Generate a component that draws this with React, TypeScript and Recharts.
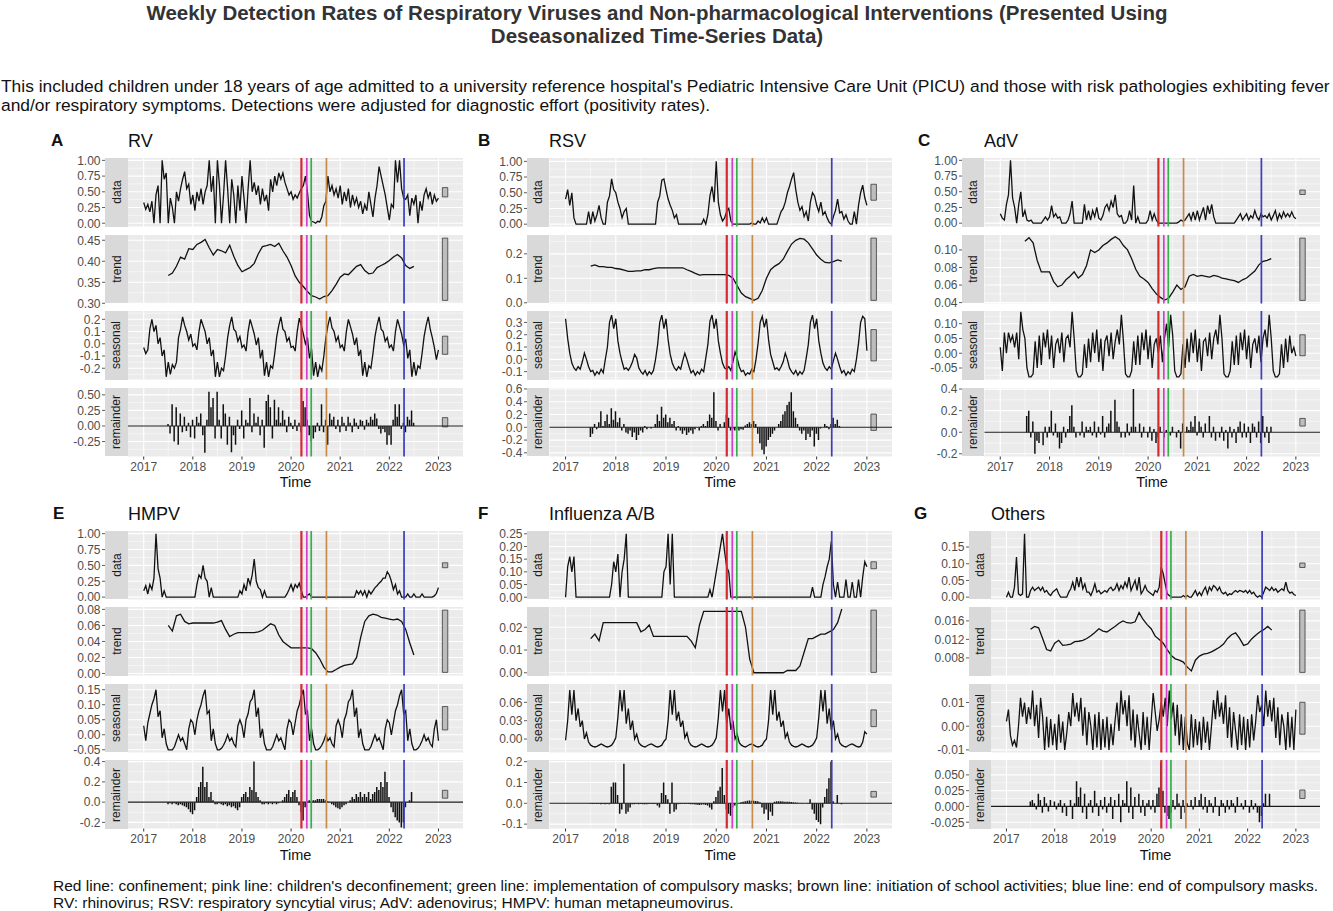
import React from "react";
import {
  ComposedChart,
  Line,
  Bar,
  XAxis,
  YAxis,
  CartesianGrid,
  ReferenceLine,
  ReferenceArea,
} from "recharts";

const FONT = '"Liberation Sans", Arial, Helvetica, sans-serif';

// time axis (decimal years)
const yearTicks = [2017, 2018, 2019, 2020, 2021, 2022, 2023];
const halfYears = [2017.5, 2018.5, 2019.5, 2020.5, 2021.5, 2022.5];

// non-pharmacological interventions
const events = [
  { name: "confinement", t: 2020.21, color: "#d62a33", w: 2.2 },
  { name: "children's deconfinement", t: 2020.32, color: "#d23fcf", w: 1.7 },
  { name: "compulsory masks", t: 2020.41, color: "#35b04a", w: 1.7 },
  { name: "school activities", t: 2020.72, color: "#c98b48", w: 1.7 },
  { name: "end of compulsory masks", t: 2022.3, color: "#3c3cbd", w: 1.7 },
];

// ---- RV ----
const rvData = [
  0.33, 0.22, 0.3, 0.18, 0.35, 0.0, 0.45, 0.6, 0.0, 1.0, 0.7, 0.8, 0.0, 0.4, 0.25, 0.0, 0.5, 0.35, 0.55, 0.7, 0.82, 0.55, 0.62, 0.3,
  0.45, 0.2, 0.5, 0.35, 0.55, 0.3, 0.5, 0.6, 1.0, 0.5, 0.75, 0.0, 1.0, 0.6, 0.0, 0.45, 1.0, 0.55, 0.0, 0.7, 0.45, 0.0, 0.6, 0.2,
  0.75, 0.4, 0.0, 0.55, 1.0, 0.5, 0.65, 0.45, 0.6, 0.3, 0.55, 0.35, 0.45, 0.2, 0.7, 0.5, 0.75, 0.6, 0.8, 0.7, 0.8, 0.65, 0.55, 0.45,
  0.5, 0.38, 0.45, 0.4, 0.48, 0.55, 0.6, 0.75, 0.5, 0.12, 0.03, 0.02, 0.0, 0.03, 0.02, 0.1, 0.28, 0.35, 0.75, 0.5, 0.6, 0.45, 0.55, 0.4,
  0.6, 0.3, 0.5, 0.35, 0.55, 0.25, 0.45, 0.3, 0.4, 0.25, 0.35, 0.15, 0.3, 0.2, 0.5, 0.3, 0.1, 0.4, 0.6, 0.9, 0.75, 0.6, 0.45, 0.25,
  0.05, 0.3, 0.25, 1.0, 0.65, 1.0, 0.55, 0.4, 0.38, 0.45, 0.12, 0.4, 0.3, 0.45, 0.0, 0.35, 0.2, 0.45, 0.55, 0.4, 0.5, 0.3, 0.45, 0.35,
  0.4,
];
const rvTrend = [
  0.366, 0.372, 0.388, 0.41, 0.405, 0.43, 0.428, 0.44, 0.445, 0.452, 0.432, 0.415,
  0.428, 0.425, 0.42, 0.438, 0.412, 0.39, 0.375, 0.38, 0.385, 0.395, 0.418, 0.435,
  0.437, 0.44, 0.435, 0.443, 0.425, 0.41, 0.39, 0.365, 0.35, 0.34, 0.328, 0.318,
  0.315, 0.31, 0.316, 0.318, 0.33, 0.345, 0.362, 0.37, 0.368, 0.378, 0.388, 0.392,
  0.378, 0.37, 0.372, 0.385, 0.39, 0.395, 0.402, 0.41, 0.416, 0.408, 0.39, 0.383,
  0.388,
];
const rvSeasonal = [
  -0.03, -0.08, -0.05, 0.12, 0.2, 0.1, 0.15, 0.0, 0.05, -0.1, -0.05, -0.27, -0.15, -0.25, -0.17, -0.2, -0.15, 0.05, 0.12, 0.22, 0.15, 0.1, 0.03, 0.08,
  -0.02, 0.0, -0.05, 0.1, 0.2, 0.15, 0.1, 0.0, 0.05, -0.1, -0.05, -0.27, -0.15, -0.27, -0.2, -0.22, -0.1, 0.05, 0.15, 0.22, 0.12, 0.1, 0.02, 0.06,
  -0.03, -0.01, -0.06, 0.1, 0.2, 0.14, 0.08, -0.01, 0.05, -0.12, -0.05, -0.26, -0.15, -0.27, -0.18, -0.2, -0.08, 0.06, 0.15, 0.22, 0.12, 0.1, 0.02, 0.05,
  -0.03, -0.02, -0.06, 0.1, 0.21, 0.15, 0.08, 0.0, 0.05, -0.12, -0.04, -0.26, -0.15, -0.27, -0.18, -0.22, -0.1, 0.05, 0.15, 0.22, 0.13, 0.1, 0.02, 0.06,
  -0.03, -0.01, -0.06, 0.1, 0.2, 0.14, 0.08, -0.01, 0.05, -0.1, -0.05, -0.26, -0.15, -0.27, -0.18, -0.2, -0.08, 0.06, 0.15, 0.22, 0.12, 0.1, 0.02, 0.05,
  -0.03, -0.01, -0.06, 0.1, 0.2, 0.14, 0.08, -0.01, 0.04, -0.12, -0.05, -0.27, -0.15, -0.26, -0.18, -0.2, -0.08, 0.06, 0.15, 0.22, 0.12, 0.05, -0.03, -0.13,
  -0.05,
];
const rvRemainder = [
  0.03, -0.12, 0.35, -0.25, 0.3, -0.3, 0.2, -0.1, 0.15, -0.08, 0.05, -0.18, 0.1, -0.2, 0.15, 0.05, 0.2, -0.15, -0.43, 0.1, 0.55, 0.3, 0.45, -0.2,
  0.55, 0.1, -0.2, 0.35, 0.2, -0.3, 0.15, -0.42, -0.15, -0.3, 0.1, -0.05, 0.25, -0.2, 0.1, 0.05, 0.45, -0.1, 0.2, 0.05, 0.15, -0.15, 0.1, -0.35,
  0.4, 0.5, 0.3, -0.2, 0.42, 0.1, 0.3, 0.05, 0.25, 0.1, -0.1, 0.15, 0.05, -0.05, 0.1, -0.08, 0.05, -0.1, 0.4, 0.3, 0.1, -0.15, -0.25, -0.2,
  -0.1, 0.05, -0.08, 0.35, -0.1, 0.1, -0.3, 0.2, 0.1, 0.15, -0.05, 0.1, -0.1, 0.15, 0.05, -0.08, 0.15, 0.05, -0.1, 0.12, 0.05, -0.05, 0.1, 0.08,
  -0.06, 0.1, 0.05, 0.15, 0.1, 0.2, 0.12, -0.05, -0.12, -0.05, -0.1, -0.3, -0.15, -0.3, 0.1, 0.35, 0.15, 0.35, -0.05, 0.05, -0.1, 0.15, 0.1, 0.25,
  0.05,
];

// ---- RSV ----
const rsvData = [
  0.4, 0.55, 0.3, 0.5, 0.1, 0, 0, 0, 0, 0, 0, 0.2, 0, 0.2, 0.05, 0.15, 0.3, 0.1, 0, 0, 0.35, 0.45, 0.72, 0.55,
  0.5, 0.35, 0.25, 0.1, 0.2, 0.25, 0, 0, 0, 0, 0, 0, 0, 0, 0, 0, 0, 0, 0, 0, 0.35, 0.45, 0.7, 0.72,
  0.55, 0.4, 0.3, 0.22, 0.1, 0.15, 0, 0, 0, 0, 0, 0, 0, 0, 0, 0, 0, 0, 0.08, 0, 0.15, 0.45, 0.6, 0.35,
  1.0, 0.35, 0.15, 0.05, 0.1, 0.2, 0.25, 0.05, 0, 0, 0, 0, 0, 0, 0, 0, 0, 0.02, 0, 0, 0.05, 0.02, 0.1, 0.03,
  0.1, 0, 0, 0, 0, 0, 0.1, 0.2, 0.25, 0.35, 0.5, 0.6, 0.72, 0.82, 0.55, 0.35, 0.22, 0.28, 0.12, 0.2, 0.05, 0.35, 0.5, 0.45,
  0.3, 0.2, 0.35, 0.15, 0.2, 0.1, 0.03, 0.0, 0.12, 0.22, 0.4, 0.18, 0.2, 0.08, 0.15, 0.05, 0.0, 0.0, 0.2, 0.0, 0.3, 0.5, 0.62, 0.42,
  0.3,
];
const rsvTrend = [
  0.15, 0.155, 0.148, 0.148, 0.145, 0.145, 0.14, 0.138, 0.133, 0.128, 0.128, 0.13,
  0.13, 0.135, 0.135, 0.14, 0.143, 0.143, 0.143, 0.143, 0.143, 0.143, 0.143, 0.135,
  0.128, 0.12, 0.113, 0.115, 0.115, 0.115, 0.115, 0.115, 0.115, 0.112, 0.1, 0.07,
  0.04, 0.025, 0.018, 0.01, 0.018, 0.05, 0.1, 0.135, 0.15, 0.16, 0.178, 0.21,
  0.24, 0.255, 0.263, 0.26, 0.245, 0.22, 0.195, 0.178, 0.165, 0.163, 0.168, 0.175,
  0.17,
];
const rsvSeasonal = [
  0.33, 0.17, 0.05, -0.03, -0.07, -0.09, -0.06, -0.08, -0.02, 0.05, 0.0, -0.06, -0.1, -0.09, -0.13, -0.1, -0.12, -0.08, -0.11, 0.0, 0.1, 0.3, 0.36, 0.25,
  0.33, 0.15, 0.05, -0.02, -0.08, -0.07, -0.09, -0.06, -0.02, 0.04, 0.01, -0.07, -0.1, -0.12, -0.09, -0.13, -0.1, -0.12, -0.09, 0.0, 0.12, 0.3, 0.36, 0.25,
  0.33, 0.16, 0.04, -0.03, -0.07, -0.09, -0.06, -0.08, -0.01, 0.05, 0.0, -0.06, -0.11, -0.09, -0.13, -0.1, -0.12, -0.08, -0.1, 0.01, 0.12, 0.31, 0.36, 0.25,
  0.33, 0.15, 0.05, -0.03, -0.07, -0.08, -0.06, -0.09, -0.02, 0.06, 0.01, -0.06, -0.1, -0.09, -0.13, -0.11, -0.12, -0.08, -0.1, 0.0, 0.13, 0.3, 0.35, 0.26,
  0.33, 0.16, 0.04, -0.02, -0.08, -0.07, -0.09, -0.06, -0.02, 0.05, 0.0, -0.07, -0.1, -0.12, -0.09, -0.13, -0.1, -0.12, -0.09, 0.01, 0.12, 0.3, 0.36, 0.25,
  0.33, 0.15, 0.05, -0.03, -0.07, -0.09, -0.06, -0.08, -0.01, 0.05, 0.0, -0.06, -0.11, -0.09, -0.13, -0.1, -0.12, -0.08, -0.1, 0.0, 0.13, 0.3, 0.35, 0.33,
  0.07,
];
const rsvRemainder = [
  -0.15, -0.1, 0.05, -0.03, 0.08, 0.25, 0.02, 0.1, 0.2, 0.05, 0.3, 0.12, 0.25, 0.08, 0.15, -0.05, 0.05, -0.08, -0.1, -0.05, -0.15, -0.08, -0.2, -0.12,
  -0.05, -0.08, 0.02, -0.03, 0.0, -0.02, 0.0, 0.05, 0.2, 0.1, 0.32, 0.15, 0.2, 0.08, 0.15, 0.05, 0.1, -0.05, 0.02, -0.05, -0.1, -0.05, -0.12, -0.08,
  -0.05, -0.1, -0.03, 0.0, -0.05, 0.02, 0.05, 0.02, 0.1, 0.2, 0.15, 0.55, 0.1, -0.05, 0.05, 0.0, 0.08, 0.2, 0.15, -0.05, -0.03, -0.05, -0.02, -0.05,
  -0.03, -0.04, 0.03, 0.05, 0.08, 0.05, 0.1, 0.05, -0.1, -0.25, -0.35, -0.42, -0.3, -0.2, -0.15, -0.1, -0.05, 0.0, 0.05, 0.1, 0.2, 0.25, 0.35, 0.4,
  0.55, 0.25, 0.15, 0.05, -0.05, -0.1, -0.05, -0.2, -0.1, -0.15, -0.05, -0.3, -0.1, -0.2, -0.02, 0.0, 0.05, 0.02, -0.03, 0.05, 0.15, 0.05, 0.12, 0.02,
  0.0,
];

// ---- AdV ----
const advData = [
  0.15, 0.08, 0.05, 0.3, 0.45, 1.0, 0.4, 0.25, 0.0, 0.3, 0.5, 0.1, 0.2, 0.05, 0.03, 0.05, 0, 0, 0, 0, 0, 0.05, 0.1, 0.05,
  0.1, 0.28, 0.1, 0.15, 0.08, 0.1, 0, 0, 0, 0.05, 0.15, 0.35, 0, 0, 0, 0, 0, 0.3, 0.05, 0.2, 0.05, 0.2, 0.1, 0.25,
  0.08, 0.05, 0.12, 0.25, 0.3, 0.2, 0.35, 0.25, 0.45, 0.15, 0.1, 0.12, 0, 0, 0.05, 0.2, 0.05, 0.6, 0, 0.1, 0, 0, 0, 0,
  0.05, 0.2, 0.05, 0.15, 0.05, 0, 0, 0, 0, 0, 0, 0, 0, 0, 0, 0.02, 0.05, 0.03, 0.05, 0.1, 0.15, 0.05, 0.18, 0.05,
  0.2, 0.05, 0.15, 0.25, 0.05, 0.28, 0.15, 0.3, 0.1, 0, 0, 0, 0, 0, 0, 0, 0, 0, 0, 0.05, 0.1, 0.15, 0.05, 0.1,
  0.15, 0.05, 0.12, 0.08, 0.2, 0.1, 0.05, 0.15, 0.1, 0.12, 0.08, 0.15, 0.05, 0.12, 0.2, 0.05, 0.15, 0.08, 0.18, 0.1, 0.15, 0.1, 0.18, 0.1,
  0.07,
];
const advTrend = [
  0.11, 0.114, 0.108, 0.088, 0.075, 0.075, 0.075, 0.064, 0.058, 0.06, 0.066, 0.07,
  0.075, 0.068, 0.072, 0.082, 0.1, 0.097, 0.1, 0.105, 0.108, 0.112, 0.115, 0.112,
  0.105, 0.1, 0.09, 0.078, 0.07, 0.067, 0.063, 0.056, 0.05, 0.046, 0.043, 0.045,
  0.052, 0.06, 0.055, 0.058, 0.07, 0.072, 0.07, 0.071, 0.07, 0.069, 0.071, 0.07,
  0.068, 0.067, 0.066, 0.065, 0.063, 0.066, 0.068, 0.072, 0.076, 0.083, 0.087, 0.088,
  0.09,
];
const advSeasonal = [
  0.02, -0.06, 0.07, 0.0, 0.07, 0.04, 0.06, 0.02, 0.07, -0.02, 0.14, 0.08, 0.05, -0.05, -0.08, -0.08, -0.07, 0.04, -0.05, 0.06, -0.04, 0.07, 0.02, 0.08,
  -0.02, 0.06, -0.05, 0.03, 0.05, 0.0, 0.07, -0.03, 0.05, 0.06, 0.02, 0.14, 0.05, -0.06, -0.08, -0.08, -0.07, 0.03, -0.05, 0.05, -0.03, 0.07, 0.0, 0.08,
  -0.03, 0.05, -0.06, 0.04, 0.06, -0.01, 0.07, -0.02, 0.04, 0.08, 0.03, 0.13, 0.04, -0.07, -0.08, -0.08, -0.06, 0.04, -0.04, 0.06, -0.04, 0.07, 0.01, 0.08,
  -0.02, 0.06, -0.05, 0.03, 0.05, 0.0, 0.06, -0.03, 0.05, 0.1, 0.02, 0.13, 0.06, -0.06, -0.08, -0.08, -0.07, 0.03, -0.05, 0.05, -0.03, 0.07, 0.0, 0.08,
  -0.03, 0.05, -0.06, 0.04, 0.05, -0.01, 0.07, -0.02, 0.05, 0.08, 0.03, 0.13, 0.05, -0.07, -0.08, -0.08, -0.06, 0.04, -0.04, 0.06, -0.04, 0.07, 0.01, 0.08,
  -0.02, 0.06, -0.05, 0.03, 0.05, 0.0, 0.06, -0.03, 0.05, 0.08, 0.02, 0.13, 0.05, -0.06, -0.08, -0.08, -0.07, 0.03, -0.05, 0.05, -0.03, 0.06, 0.0, 0.02,
  -0.01,
];
const advRemainder = [
  0.0, 0.15, 0.2, -0.05, 0.1, -0.2, -0.08, -0.1, 0.0, -0.12, 0.05, -0.05, 0.05, 0.2, -0.03, 0.08, -0.05, -0.15, -0.1, 0.05, -0.05, 0.03, 0.15, 0.25,
  0.05, -0.05, 0.0, -0.03, 0.1, -0.05, 0.05, 0.02, 0.05, -0.03, 0.1, -0.05, 0.05, -0.02, 0.15, -0.05, 0.05, 0.08, 0.2, 0.0, 0.3, 0.1, 0.05, -0.05,
  0.0, -0.05, 0.08, -0.03, 0.05, 0.4, 0.05, 0.0, 0.08, -0.05, 0.05, 0.0, -0.05, 0.05, -0.08, 0.03, -0.1, -0.05, 0.05, 0.0, -0.05, 0.02, 0.0, -0.03,
  0.05, 0.0, -0.05, 0.02, -0.15, 0.08, 0.0, 0.05, 0.02, 0.1, 0.05, 0.15, -0.03, 0.1, 0.05, -0.05, 0.08, 0.0, 0.15, -0.05, 0.05, -0.08, 0.0, -0.05,
  0.05, -0.08, 0.02, -0.15, 0.05, -0.05, 0.03, -0.1, 0.05, 0.1, -0.05, 0.08, -0.05, 0.05, -0.1, 0.08, 0.05, -0.05, 0.1, -0.1, 0.15, -0.05, 0.05, -0.1,
  0.05,
];

// ---- HMPV ----
const hmpvData = [
  0.1, 0.18, 0.05, 0.2, 0.12, 0.3, 1.0, 0.45, 0.3, 0.0, 0.1, 0, 0, 0, 0, 0, 0, 0, 0, 0, 0, 0, 0, 0,
  0, 0, 0.2, 0.35, 0.3, 0.5, 0.3, 0.25, 0, 0.15, 0, 0, 0, 0, 0, 0, 0, 0, 0, 0, 0, 0, 0, 0.1,
  0.05, 0.2, 0.1, 0.3, 0.2, 0.35, 0.6, 0.25, 0.15, 0.12, 0, 0.1, 0, 0, 0, 0, 0, 0, 0, 0, 0, 0, 0.05, 0.12,
  0.2, 0.1, 0.2, 0.15, 0.22, 0.1, 0.0, 0.0, 0.03, 0.05, 0, 0, 0, 0, 0, 0, 0, 0, 0, 0, 0, 0, 0, 0,
  0, 0, 0, 0, 0, 0, 0, 0, 0.1, 0.05, 0.1, 0.03, 0.1, 0, 0.1, 0.05, 0.1, 0.15, 0.18, 0.22, 0.25, 0.3, 0.3, 0.4,
  0.35, 0.25, 0.12, 0.2, 0.05, 0.1, 0, 0, 0, 0.05, 0, 0, 0.05, 0, 0, 0, 0.05, 0, 0, 0, 0, 0, 0.02, 0.06,
  0.15,
];
const hmpvTrend = [
  0.06, 0.053, 0.072, 0.074, 0.065, 0.062, 0.063, 0.063, 0.063, 0.063, 0.063, 0.063,
  0.064, 0.066, 0.055, 0.046, 0.049, 0.051, 0.051, 0.051, 0.051, 0.051, 0.052, 0.054,
  0.058, 0.062, 0.06, 0.048, 0.04, 0.036, 0.032, 0.032, 0.032, 0.032, 0.032, 0.031,
  0.026, 0.018, 0.008, 0.002, 0.002, 0.005, 0.008, 0.01, 0.011, 0.012, 0.02, 0.045,
  0.065, 0.072, 0.074, 0.073, 0.07, 0.069, 0.068, 0.067, 0.068, 0.065, 0.055, 0.038,
  0.023,
];
const hmpvSeasonal = [
  0.03, -0.02, 0.04, 0.07, 0.1, 0.12, 0.15, 0.06, 0.08, -0.01, 0.02, -0.03, -0.05, -0.05, -0.05, -0.04, -0.02, 0.0, -0.02, -0.01, -0.03, -0.05, 0.02, 0.05,
  0.04, 0.0, 0.05, 0.08, 0.1, 0.13, 0.15, 0.07, 0.08, -0.02, 0.02, -0.03, -0.05, -0.05, -0.045, -0.035, -0.02, 0.0, -0.02, -0.01, -0.03, -0.04, 0.03, 0.05,
  0.03, -0.01, 0.05, 0.07, 0.11, 0.12, 0.15, 0.06, 0.09, -0.01, 0.02, -0.03, -0.05, -0.05, -0.05, -0.04, -0.02, 0.0, -0.02, -0.01, -0.03, -0.05, 0.02, 0.05,
  0.04, 0.0, 0.04, 0.08, 0.1, 0.13, 0.15, 0.07, 0.08, -0.02, 0.02, -0.03, -0.05, -0.05, -0.045, -0.035, -0.02, 0.0, -0.02, -0.01, -0.03, -0.04, 0.03, 0.05,
  0.03, -0.01, 0.05, 0.07, 0.11, 0.12, 0.15, 0.06, 0.09, -0.01, 0.02, -0.03, -0.05, -0.05, -0.05, -0.04, -0.02, 0.0, -0.02, -0.01, -0.03, -0.05, 0.02, 0.05,
  0.04, 0.0, 0.04, 0.08, 0.1, 0.13, 0.15, 0.07, 0.08, -0.02, 0.02, -0.03, -0.05, -0.05, -0.045, -0.035, -0.02, 0.0, -0.02, -0.01, -0.03, -0.04, 0.02, 0.05,
  -0.02,
];
const hmpvRemainder = [
  -0.02, -0.01, -0.02, -0.01, -0.02, -0.03, -0.02, -0.03, -0.04, -0.05, -0.07, -0.1, -0.12, -0.08, 0.05, 0.15, 0.2, 0.35, 0.15, 0.2, 0.05, 0.1, 0.02, -0.02,
  -0.02, -0.01, -0.02, -0.03, -0.02, -0.04, -0.03, -0.05, -0.04, -0.06, -0.08, -0.05, 0.05, 0.08, 0.1, 0.05, 0.15, 0.12, 0.4, 0.1, 0.05, 0.02, -0.02, -0.02,
  -0.01, -0.02, -0.01, -0.02, -0.01, -0.02, -0.01, 0.0, 0.02, 0.05, 0.08, 0.12, 0.05, 0.1, 0.12, 0.05, -0.03, -0.1, -0.18, -0.05, 0.01, 0.02, 0.01, 0.02,
  0.02, 0.03, 0.03, 0.03, 0.03, 0.02, 0.01, 0.0, -0.02, -0.03, -0.05, -0.06, -0.07, -0.05, -0.03, -0.02, 0.0, 0.02, 0.05, 0.03, 0.08, 0.05, 0.1, 0.05,
  0.08, 0.05, 0.1, 0.03, 0.08, 0.1, 0.15, 0.12, 0.2, 0.15, 0.3, 0.2, 0.05, -0.05, -0.1, -0.15, -0.18, -0.2, -0.25, -0.2, -0.05, 0.0, 0.02, 0.1,
  0.0,
];

// ---- Influenza A/B ----
const fluData = [
  0, 0.12, 0.16, 0.1, 0.16, 0, 0, 0, 0, 0, 0, 0, 0, 0, 0, 0, 0, 0, 0, 0, 0, 0, 0.05, 0.14,
  0.1, 0.17, 0, 0.1, 0.15, 0.25, 0, 0, 0, 0, 0, 0, 0, 0, 0, 0, 0, 0, 0, 0, 0, 0, 0, 0.1,
  0.12, 0.25, 0.05, 0.25, 0, 0, 0, 0, 0, 0, 0, 0, 0, 0, 0, 0, 0, 0, 0, 0, 0, 0.03, 0, 0.05,
  0.1, 0.15, 0.2, 0.25, 0.18, 0.12, 0.1, 0, 0, 0, 0, 0, 0, 0, 0, 0, 0, 0, 0, 0, 0, 0, 0, 0,
  0, 0, 0, 0, 0, 0, 0, 0, 0, 0, 0, 0, 0, 0, 0, 0, 0, 0, 0, 0, 0, 0, 0.04, 0,
  0, 0, 0, 0.05, 0.08, 0.12, 0.15, 0.22, 0.05, 0, 0.06, 0, 0, 0, 0.07, 0, 0, 0.06, 0, 0, 0.07, 0, 0.08, 0.14,
  0.12,
];
const fluTrend = [
  0.015, 0.017, 0.014, 0.022, 0.022, 0.022, 0.022, 0.022, 0.022, 0.022, 0.022, 0.022,
  0.018, 0.019, 0.021, 0.016, 0.016, 0.016, 0.016, 0.016, 0.016, 0.016, 0.016, 0.016,
  0.014, 0.011, 0.021, 0.027, 0.027, 0.027, 0.027, 0.027, 0.027, 0.027, 0.027, 0.027,
  0.027, 0.02, 0.006, 0.0, 0.0, 0.0, 0.0, 0.0, 0.0, 0.0, 0.0, 0.001,
  0.001, 0.001, 0.003, 0.009, 0.015, 0.015, 0.016, 0.017, 0.017, 0.018, 0.019, 0.022,
  0.028,
];
const fluSeasonal = [
  -0.002, 0.03, 0.08, 0.04, 0.08, 0.03, 0.05, 0.02, 0.03, 0.0, 0.01, -0.005, -0.01, -0.012, -0.013, -0.012, -0.01, -0.008, -0.01, -0.012, -0.013, -0.012, -0.01, -0.005,
  0.002, 0.035, 0.08, 0.045, 0.08, 0.025, 0.05, 0.015, 0.03, 0.0, 0.008, -0.006, -0.01, -0.012, -0.013, -0.011, -0.009, -0.008, -0.01, -0.012, -0.013, -0.012, -0.01, -0.004,
  0.0, 0.03, 0.08, 0.04, 0.08, 0.03, 0.045, 0.02, 0.03, 0.002, 0.01, -0.005, -0.01, -0.012, -0.013, -0.012, -0.01, -0.008, -0.01, -0.012, -0.013, -0.012, -0.01, -0.005,
  0.002, 0.035, 0.08, 0.045, 0.08, 0.025, 0.05, 0.015, 0.03, 0.0, 0.008, -0.006, -0.01, -0.012, -0.013, -0.011, -0.009, -0.008, -0.01, -0.012, -0.013, -0.012, -0.01, -0.004,
  0.0, 0.03, 0.08, 0.04, 0.08, 0.03, 0.045, 0.02, 0.03, 0.002, 0.01, -0.005, -0.01, -0.012, -0.013, -0.012, -0.01, -0.008, -0.01, -0.012, -0.013, -0.012, -0.01, -0.005,
  0.002, 0.035, 0.08, 0.045, 0.08, 0.025, 0.05, 0.015, 0.03, 0.0, 0.008, -0.006, -0.01, -0.012, -0.013, -0.011, -0.009, -0.008, -0.01, -0.012, -0.013, -0.012, -0.005, 0.012,
  0.008,
];
const fluRemainder = [
  -0.002, -0.003, -0.002, -0.003, -0.002, -0.004, -0.003, -0.004, -0.003, -0.005, 0.08, 0.1, 0.1, 0.04, -0.05, -0.03, 0.19, -0.05, -0.04, -0.02, -0.005, -0.004, -0.003, -0.004,
  -0.003, -0.004, -0.005, -0.004, -0.003, -0.002, -0.003, -0.002, -0.01, -0.02, 0.05, 0.1, 0.04, 0.02, -0.05, 0.1, -0.04, -0.03, -0.005, -0.003, -0.002, -0.003, -0.002, -0.003,
  -0.004, -0.005, -0.006, -0.007, -0.008, -0.007, -0.006, -0.008, -0.01, -0.02, -0.03, 0.01, 0.03, 0.06, 0.08, 0.17, 0.04, -0.03, -0.05, -0.06, -0.02, -0.01, -0.005, 0.0,
  0.005, 0.008, 0.01, 0.012, 0.013, 0.012, 0.012, 0.011, 0.01, 0.005, -0.02, -0.05, -0.03, -0.08, -0.04, -0.06, 0.008, 0.01, 0.01, 0.01, 0.009, 0.008, 0.008, 0.007,
  0.006, 0.005, 0.004, 0.003, 0.002, 0.001, 0.0, 0.0, -0.002, 0.02, -0.03, -0.05, -0.08, -0.09, -0.1, -0.02, 0.03, 0.07, 0.12, 0.2, 0.01, 0.0, 0.04, 0.0,
  -0.005,
];

// ---- Others ----
const othData = [
  0.0, 0.015, 0.0, 0.0, 0.03, 0.12, 0.01, 0.005, 0.01, 0.19, 0.0, 0.0, 0.02, 0.03, 0.02, 0.025, 0.03, 0.02, 0.03, 0.015, 0.02, 0.01, 0.005, 0.015,
  0.02, 0.025, 0.01, 0.0, 0.0, 0.0, 0.0, 0.015, 0.025, 0.045, 0.02, 0.06, 0.03, 0.06, 0.025, 0.04, 0.015, 0.015, 0.005, 0.02, 0.04, 0.015, 0.02, 0.01,
  0.015, 0.02, 0.015, 0.025, 0.03, 0.02, 0.025, 0.04, 0.02, 0.035, 0.025, 0.045, 0.03, 0.06, 0.02, 0.035, 0.05, 0.02, 0.06, 0.01, 0.02, 0.035, 0.02, 0.015,
  0.01, 0.005, 0.02, 0.015, 0.03, 0.09, 0.07, 0.04, 0.01, 0.005, 0.0, 0.0, 0.0, 0.0, 0.0, 0.0, 0.005, 0.0, 0.005, 0.0, 0.0, 0.01, 0.02, 0.005,
  0.015, 0.005, 0.02, 0.03, 0.01, 0.03, 0.02, 0.035, 0.03, 0.02, 0.03, 0.015, 0.01, 0.015, 0.005, 0.01, 0.008, 0.015, 0.02, 0.015, 0.02, 0.018, 0.015, 0.02,
  0.012, 0.02, 0.01, 0.015, 0.005, 0.0, 0.005, 0.0, 0.015, 0.03, 0.025, 0.02, 0.03, 0.02, 0.025, 0.015, 0.02, 0.025, 0.02, 0.045, 0.02, 0.012, 0.015, 0.008,
  0.005,
];
const othTrend = [
  0.0142, 0.0148, 0.0145, 0.0122, 0.0098, 0.0095, 0.0112, 0.0118, 0.0107, 0.0108, 0.011, 0.0115,
  0.0116, 0.0118, 0.0122, 0.0128, 0.0135, 0.0143, 0.0138, 0.0136, 0.0142, 0.0148, 0.0155, 0.016,
  0.0156, 0.0155, 0.0158, 0.0178, 0.0163, 0.0152, 0.0143, 0.0127, 0.012, 0.0112, 0.0098, 0.0085,
  0.0078, 0.0075, 0.0071, 0.006, 0.0052, 0.0075, 0.0084, 0.0088, 0.009, 0.0093, 0.0098, 0.0103,
  0.011, 0.0122, 0.013, 0.0134, 0.0122, 0.0107, 0.011, 0.0121, 0.0129, 0.0136, 0.0141, 0.0148,
  0.014,
];
const othSeasonal = [
  0.002, 0.007, -0.004, -0.008, -0.006, -0.009, 0.0, 0.012, 0.004, 0.01, 0.001, 0.008, 0.003, 0.015, 0.0, 0.009, -0.005, 0.012, 0.004, -0.01, 0.004, -0.009, 0.003, -0.008,
  0.001, -0.01, 0.005, -0.007, 0.002, -0.01, -0.003, 0.006, 0.0, 0.014, 0.004, 0.01, 0.002, 0.012, -0.004, 0.008, -0.008, 0.006, 0.0, -0.01, 0.005, -0.009, 0.006, -0.01,
  0.003, -0.009, 0.004, -0.01, 0.001, -0.008, 0.002, 0.01, -0.002, 0.015, 0.005, 0.011, 0.0, 0.013, -0.006, 0.007, -0.009, 0.005, -0.003, -0.01, 0.006, -0.008, 0.004, -0.01,
  0.002, 0.014, 0.006, -0.002, 0.003, 0.01, 0.004, 0.012, 0.0, 0.015, 0.003, 0.01, -0.004, 0.009, -0.008, 0.005, -0.01, 0.004, -0.007, -0.01, 0.005, -0.009, 0.003, -0.008,
  0.002, -0.01, 0.004, -0.007, 0.002, -0.01, 0.0, 0.011, 0.003, 0.015, 0.004, 0.01, 0.001, 0.013, -0.005, 0.008, -0.009, 0.006, -0.002, -0.01, 0.005, -0.008, 0.004, -0.01,
  0.003, -0.009, 0.005, -0.006, 0.002, 0.013, 0.006, 0.009, 0.0, 0.015, 0.004, 0.011, 0.002, 0.012, -0.005, 0.008, -0.008, 0.005, 0.0, -0.01, 0.006, -0.009, 0.004, -0.01,
  0.007,
];
const othRemainder = [
  0.008, 0.01, 0.005, -0.005, 0.02, 0.01, -0.01, 0.015, 0.005, -0.008, 0.01, 0.0, 0.008, -0.005, 0.005, 0.01, -0.01, 0.005, -0.015, 0.0, 0.01, -0.02, 0.005, 0.04,
  0.015, 0.03, -0.01, 0.02, -0.02, 0.005, 0.01, -0.01, 0.025, 0.005, -0.015, 0.01, -0.005, 0.015, -0.01, 0.005, 0.015, -0.02, 0.01, 0.0, 0.02, -0.025, 0.01, 0.005,
  0.04, -0.01, 0.03, -0.02, 0.015, 0.0, 0.02, -0.01, 0.01, -0.015, 0.005, 0.01, -0.005, 0.01, -0.01, 0.02, 0.03, 0.07, 0.025, -0.01, -0.015, -0.02, -0.01, 0.01,
  -0.005, 0.02, 0.005, -0.02, 0.01, -0.01, 0.005, 0.0, 0.01, -0.005, 0.015, 0.0, 0.01, 0.02, -0.005, 0.015, -0.01, 0.01, 0.005, -0.01, 0.015, 0.0, -0.015, 0.01,
  0.005, -0.01, 0.01, -0.005, 0.01, 0.005, -0.01, 0.015, 0.0, 0.005, -0.005, 0.01, 0.0, -0.01, 0.01, -0.005, 0.005, -0.01, -0.025, -0.015, 0.005, 0.02, 0.0, 0.02,
  0.0,
];

// ---------- layout ----------
const SUB_H = 68.5;
const SUB_GAP = 8.1;
const PAD = 7;
const LABEL_W = 66;
const AXIS_H = 22;
const X_DOMAIN: [number, number] = [2016.68, 2023.5];
const BAR_X: [number, number] = [2023.08, 2023.19];

type SubSpec = {
  label: string;
  values: number[];
  start: number;
  perYear: number;
  domain: [number, number];
  ticks: number[];
  minor: number[];
  digits: number;
  bars?: boolean;
};

type PanelSpec = {
  letter: string;
  name: string;
  letterX: number;
  stripLeft: number;
  plotLeft: number;
  plotRight: number;
  top: number;
  subs: SubSpec[];
};

const dataTicks = [0, 0.25, 0.5, 0.75, 1];
const dataMinor = [0.125, 0.375, 0.625, 0.875];

const panels: PanelSpec[] = [
  {
    letter: "A", name: "RV", letterX: 51, stripLeft: 105, plotLeft: 128, plotRight: 463, top: 158,
    subs: [
      { label: "data", values: rvData, start: 2017, perYear: 24, domain: [-0.052, 1.038], ticks: dataTicks, minor: dataMinor, digits: 2 },
      { label: "trend", values: rvTrend, start: 2017.5, perYear: 12, domain: [0.2995, 0.4625], ticks: [0.3, 0.35, 0.4, 0.45], minor: [0.325, 0.375, 0.425], digits: 2 },
      { label: "seasonal", values: rvSeasonal, start: 2017, perYear: 24, domain: [-0.292, 0.268], ticks: [-0.2, -0.1, 0, 0.1, 0.2], minor: [-0.25, -0.15, -0.05, 0.05, 0.15, 0.25], digits: 1 },
      { label: "remainder", values: rvRemainder, start: 2017.5, perYear: 24, domain: [-0.49, 0.61], ticks: [-0.25, 0, 0.25, 0.5], minor: [-0.375, -0.125, 0.125, 0.375], digits: 2, bars: true },
    ],
  },
  {
    letter: "B", name: "RSV", letterX: 478, stripLeft: 526.5, plotLeft: 549, plotRight: 891.5, top: 158,
    subs: [
      { label: "data", values: rsvData, start: 2017, perYear: 24, domain: [-0.037, 1.053], ticks: dataTicks, minor: dataMinor, digits: 2 },
      { label: "trend", values: rsvTrend, start: 2017.5, perYear: 12, domain: [-0.003, 0.277], ticks: [0, 0.1, 0.2], minor: [0.05, 0.15, 0.25], digits: 1 },
      { label: "seasonal", values: rsvSeasonal, start: 2017, perYear: 24, domain: [-0.164, 0.393], ticks: [-0.1, 0, 0.1, 0.2, 0.3], minor: [-0.15, -0.05, 0.05, 0.15, 0.25, 0.35], digits: 1 },
      { label: "remainder", values: rsvRemainder, start: 2017.5, perYear: 24, domain: [-0.457, 0.615], ticks: [-0.4, -0.2, 0, 0.2, 0.4, 0.6], minor: [-0.3, -0.1, 0.1, 0.3, 0.5], digits: 1, bars: true },
    ],
  },
  {
    letter: "C", name: "AdV", letterX: 918, stripLeft: 961.5, plotLeft: 984, plotRight: 1320, top: 158,
    subs: [
      { label: "data", values: advData, start: 2017, perYear: 24, domain: [-0.053, 1.037], ticks: dataTicks, minor: dataMinor, digits: 2 },
      { label: "trend", values: advTrend, start: 2017.5, perYear: 12, domain: [0.039, 0.117], ticks: [0.04, 0.06, 0.08, 0.1], minor: [0.05, 0.07, 0.09, 0.11], digits: 2 },
      { label: "seasonal", values: advSeasonal, start: 2017, perYear: 24, domain: [-0.089, 0.143], ticks: [-0.05, 0, 0.05, 0.1], minor: [-0.075, -0.025, 0.025, 0.075, 0.125], digits: 2 },
      { label: "remainder", values: advRemainder, start: 2017.5, perYear: 24, domain: [-0.225, 0.41], ticks: [-0.2, 0, 0.2, 0.4], minor: [-0.1, 0.1, 0.3], digits: 1, bars: true },
    ],
  },
  {
    letter: "E", name: "HMPV", letterX: 53, stripLeft: 105, plotLeft: 128, plotRight: 463, top: 530.5,
    subs: [
      { label: "data", values: hmpvData, start: 2017, perYear: 24, domain: [-0.037, 1.042], ticks: dataTicks, minor: dataMinor, digits: 2 },
      { label: "trend", values: hmpvTrend, start: 2017.5, perYear: 12, domain: [-0.0025, 0.083], ticks: [0, 0.02, 0.04, 0.06, 0.08], minor: [0.01, 0.03, 0.05, 0.07], digits: 2 },
      { label: "seasonal", values: hmpvSeasonal, start: 2017, perYear: 24, domain: [-0.059, 0.169], ticks: [-0.05, 0, 0.05, 0.1, 0.15], minor: [-0.025, 0.025, 0.075, 0.125], digits: 2 },
      { label: "remainder", values: hmpvRemainder, start: 2017.5, perYear: 24, domain: [-0.26, 0.416], ticks: [-0.2, 0, 0.2, 0.4], minor: [-0.1, 0.1, 0.3], digits: 1, bars: true },
    ],
  },
  {
    letter: "F", name: "Influenza A/B", letterX: 478, stripLeft: 526.5, plotLeft: 549, plotRight: 891.5, top: 530.5,
    subs: [
      { label: "data", values: fluData, start: 2017, perYear: 24, domain: [-0.009, 0.261], ticks: [0, 0.05, 0.1, 0.15, 0.2, 0.25], minor: [0.025, 0.075, 0.125, 0.175, 0.225], digits: 2 },
      { label: "trend", values: fluTrend, start: 2017.5, perYear: 12, domain: [-0.0012, 0.0289], ticks: [0, 0.01, 0.02], minor: [0.005, 0.015, 0.025], digits: 2 },
      { label: "seasonal", values: fluSeasonal, start: 2017, perYear: 24, domain: [-0.022, 0.09], ticks: [0, 0.03, 0.06], minor: [-0.015, 0.015, 0.045, 0.075], digits: 2 },
      { label: "remainder", values: fluRemainder, start: 2017.5, perYear: 24, domain: [-0.121, 0.208], ticks: [-0.1, 0, 0.1, 0.2], minor: [-0.05, 0.05, 0.15], digits: 1, bars: true },
    ],
  },
  {
    letter: "G", name: "Others", letterX: 914, stripLeft: 969, plotLeft: 991, plotRight: 1320, top: 530.5,
    subs: [
      { label: "data", values: othData, start: 2017, perYear: 24, domain: [-0.007, 0.198], ticks: [0, 0.05, 0.1, 0.15], minor: [0.025, 0.075, 0.125, 0.175], digits: 2 },
      { label: "trend", values: othTrend, start: 2017.5, perYear: 12, domain: [0.0042, 0.019], ticks: [0.008, 0.012, 0.016], minor: [0.006, 0.01, 0.014, 0.018], digits: 3 },
      { label: "seasonal", values: othSeasonal, start: 2017, perYear: 24, domain: [-0.0111, 0.0178], ticks: [-0.01, 0, 0.01], minor: [-0.005, 0.005, 0.015], digits: 2 },
      { label: "remainder", values: othRemainder, start: 2017.5, perYear: 24, domain: [-0.035, 0.0736], ticks: [-0.025, 0, 0.025, 0.05], minor: [-0.0125, 0.0125, 0.0375, 0.0625], digits: 3, bars: true },
    ],
  },
];

function rows(values: number[], start: number, perYear: number) {
  return values.map((v, i) => ({ t: start + i / perYear, v }));
}

function YTick(props: any) {
  const { y, payload, digits } = props;
  return (
    <g>
      <line x1={LABEL_W - 3} x2={LABEL_W} y1={y} y2={y} stroke="#333" strokeWidth={0.8} />
      <text x={LABEL_W - 4.5} y={y} dy="0.36em" textAnchor="end" fontSize={12} fill="#4d4d4d" fontFamily={FONT}>
        {Number(payload.value).toFixed(digits)}
      </text>
    </g>
  );
}

function SubChart({ spec, width, stripW, last, barLen }: { spec: SubSpec; width: number; stripW: number; last: boolean; barLen: number }) {
  const data = rows(spec.values, spec.start, spec.perYear);
  const height = last ? PAD + SUB_H + AXIS_H : PAD + SUB_H + PAD;
  const mid = (spec.domain[0] + spec.domain[1]) / 2;
  return (
    <ComposedChart
      width={width}
      height={height}
      data={data}
      margin={{ top: PAD, right: 0, bottom: last ? 0 : PAD, left: 0 }}
    >
      <CartesianGrid fill="#ebebeb" stroke="#ffffff" strokeWidth={0.5} horizontalValues={spec.minor} verticalValues={halfYears} />
      <CartesianGrid stroke="#ffffff" strokeWidth={1.1} horizontalValues={spec.ticks} verticalValues={yearTicks} />
      <XAxis
        type="number"
        dataKey="t"
        domain={X_DOMAIN}
        allowDataOverflow
        ticks={yearTicks}
        interval={0}
        hide={!last}
        height={AXIS_H}
        tickSize={3}
        tickMargin={3}
        axisLine={false}
        tickLine={{ stroke: "#333" }}
        tick={{ fontSize: 12, fill: "#4d4d4d", fontFamily: FONT }}
      />
      <YAxis
        type="number"
        domain={spec.domain}
        allowDataOverflow
        ticks={spec.ticks}
        interval={0}
        width={LABEL_W + stripW}
        axisLine={false}
        tickLine={false}
        tick={(p: any) => <YTick {...p} digits={spec.digits} />}
      />
      <ReferenceArea
        x1={BAR_X[0]}
        x2={BAR_X[1]}
        y1={mid - barLen / 2}
        y2={mid + barLen / 2}
        fill="#bdbdbd"
        fillOpacity={1}
        stroke="#3a3a3a"
        strokeWidth={0.8}
      />
      {spec.bars ? <ReferenceLine y={0} stroke="#1a1a1a" strokeWidth={1.1} /> : null}
      {spec.bars ? (
        <Bar dataKey="v" fill="#111" barSize={1.5} isAnimationActive={false} />
      ) : (
        <Line type="linear" dataKey="v" stroke="#111" strokeWidth={1.3} dot={false} isAnimationActive={false} />
      )}
      {events.map((e) => (
        <ReferenceLine key={e.name} x={e.t} stroke={e.color} strokeWidth={e.w} />
      ))}
    </ComposedChart>
  );
}

function Panel({ p }: { p: PanelSpec }) {
  const trend = p.subs[1];
  const barLen = (trend.domain[1] - trend.domain[0]) / 1.1;
  const chartLeft = p.stripLeft - LABEL_W;
  const stripW = p.plotLeft - p.stripLeft;
  const width = p.plotRight - chartLeft;
  const bottom = p.top + 4 * SUB_H + 3 * SUB_GAP;
  return (
    <>
      <div style={{ position: "absolute", left: p.letterX, top: p.top - 27, fontSize: 17, lineHeight: "20px", fontWeight: "bold" }}>
        {p.letter}
      </div>
      <div style={{ position: "absolute", left: p.plotLeft, top: p.top - 27, fontSize: 18, lineHeight: "20px", whiteSpace: "nowrap" }}>
        {p.name}
      </div>
      {p.subs.map((s, k) => {
        const top = p.top + k * (SUB_H + SUB_GAP);
        const last = k === p.subs.length - 1;
        return (
          <div key={s.label} style={{ position: "absolute", left: chartLeft, top: top - PAD }}>
            <SubChart spec={s} width={width} stripW={stripW} last={last} barLen={barLen} />
            <div
              style={{
                position: "absolute",
                left: LABEL_W,
                top: PAD,
                width: stripW,
                height: SUB_H,
                background: "#d9d9d9",
                display: "flex",
                alignItems: "center",
                justifyContent: "center",
              }}
            >
              <span style={{ transform: "rotate(-90deg)", fontSize: 12, color: "#1a1a1a", whiteSpace: "nowrap" }}>{s.label}</span>
            </div>
          </div>
        );
      })}
      <div
        style={{
          position: "absolute",
          left: p.plotLeft,
          width: p.plotRight - p.plotLeft,
          top: bottom + 18,
          textAlign: "center",
          fontSize: 14.5,
          lineHeight: "17px",
        }}
      >
        Time
      </div>
    </>
  );
}

export default function App() {
  return (
    <div
      style={{
        position: "absolute",
        left: 0,
        top: 0,
        width: 1333,
        height: 911,
        background: "#ffffff",
        fontFamily: FONT,
        color: "#111",
        overflow: "hidden",
      }}
    >
      <div style={{ position: "absolute", left: 0, top: 1, width: 1314, textAlign: "center", fontWeight: "bold", fontSize: 20.5, lineHeight: "23px", color: "#333" }}>
        Weekly Detection Rates of Respiratory Viruses and Non-pharmacological Interventions (Presented Using
        <br />
        Deseasonalized Time-Series Data)
      </div>
      <div style={{ position: "absolute", left: 1, top: 76.5, fontSize: 17.4, lineHeight: "19.5px", whiteSpace: "nowrap" }}>
        This included children under 18 years of age admitted to a university reference hospital's Pediatric Intensive Care Unit (PICU) and those with risk pathologies exhibiting fever
        <br />
        and/or respiratory symptoms. Detections were adjusted for diagnostic effort (positivity rates).
      </div>
      {panels.map((p) => (
        <Panel key={p.letter} p={p} />
      ))}
      <div style={{ position: "absolute", left: 53, top: 876.5, fontSize: 15.5, lineHeight: "17.6px", whiteSpace: "nowrap" }}>
        Red line: confinement; pink line: children's deconfinement; green line: implementation of compulsory masks; brown line: initiation of school activities; blue line: end of compulsory masks.
        <br />
        RV: rhinovirus; RSV: respiratory syncytial virus; AdV: adenovirus; HMPV: human metapneumovirus.
      </div>
    </div>
  );
}
